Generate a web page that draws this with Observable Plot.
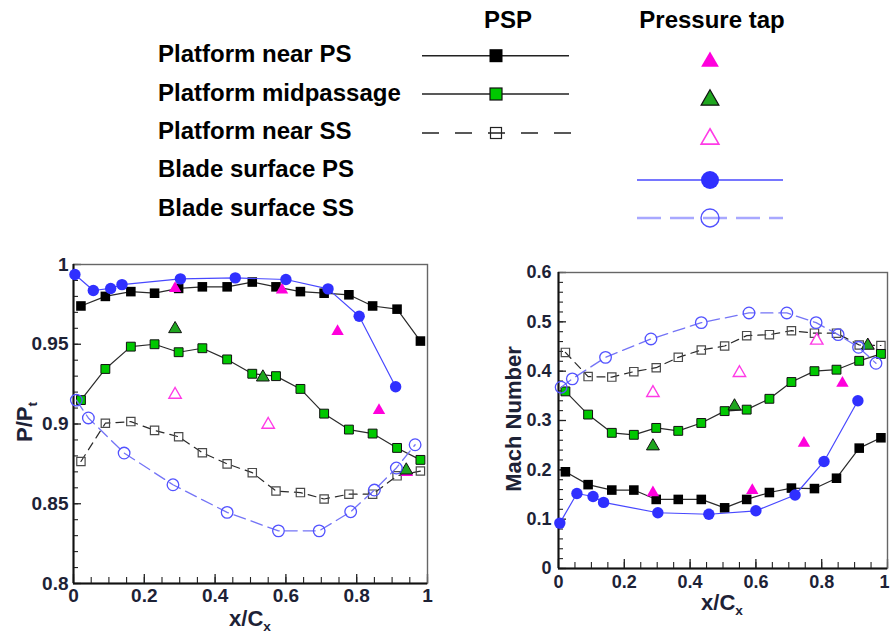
<!DOCTYPE html>
<html>
<head>
<meta charset="utf-8">
<script src="https://cdn.jsdelivr.net/npm/d3@7"></script>
<script src="https://cdn.jsdelivr.net/npm/@observablehq/plot@0.6"></script>
<style>
  html, body { margin: 0; padding: 0; background: #fff; }
  #fig { position: relative; width: 891px; height: 636px; overflow: hidden; background: #fff; }
  #fig svg { position: absolute; }
</style>
</head>
<body>
<div id="fig"></div>
<script>
// ---- PSP stations (axial chord fraction) ----
const xPSP = [0.021, 0.090, 0.162, 0.229, 0.297, 0.364, 0.434, 0.505, 0.572, 0.641, 0.708, 0.778, 0.845, 0.914, 0.980];
// PSP, static-to-total pressure ratio
const pNearPS = [0.974, 0.980, 0.983, 0.982, 0.985, 0.986, 0.986, 0.989, 0.986, 0.983, 0.982, 0.981, 0.974, 0.972, 0.952];
const pMid    = [0.915, 0.9345, 0.9485, 0.950, 0.945, 0.9475, 0.9405, 0.9315, 0.930, 0.922, 0.9065, 0.8965, 0.894, 0.885, 0.8775];
const pNearSS = [0.8765, 0.9005, 0.9015, 0.896, 0.892, 0.882, 0.875, 0.8695, 0.858, 0.857, 0.853, 0.856, 0.856, 0.8675, 0.8705];
// PSP, Mach number
const mNearPS = [0.196, 0.170, 0.159, 0.159, 0.140, 0.140, 0.140, 0.123, 0.140, 0.154, 0.163, 0.162, 0.183, 0.244, 0.265];
const mMid    = [0.359, 0.312, 0.275, 0.271, 0.285, 0.279, 0.295, 0.319, 0.322, 0.344, 0.378, 0.400, 0.403, 0.421, 0.435];
const mNearSS = [0.438, 0.389, 0.388, 0.399, 0.407, 0.428, 0.443, 0.451, 0.472, 0.474, 0.482, 0.477, 0.477, 0.453, 0.452];

// ---- Blade surface taps ----
const xBladePS = [0.004, 0.056, 0.105, 0.137, 0.302, 0.457, 0.600, 0.719, 0.807, 0.910];
const pBladePS = [0.9937, 0.9837, 0.985, 0.9874, 0.991, 0.9916, 0.9906, 0.9847, 0.9676, 0.9234];
const mBladePS = [0.092, 0.152, 0.146, 0.134, 0.113, 0.110, 0.117, 0.149, 0.217, 0.340];
const xBladeSS = [0.008, 0.042, 0.143, 0.281, 0.434, 0.579, 0.694, 0.783, 0.850, 0.912, 0.965];
const pBladeSS = [0.915, 0.9038, 0.8818, 0.8619, 0.8446, 0.833, 0.833, 0.845, 0.8586, 0.8724, 0.887];
const mBladeSS = [0.3675, 0.3844, 0.428, 0.4653, 0.4983, 0.518, 0.518, 0.4983, 0.474, 0.4484, 0.416];

// ---- Platform pressure taps ----
const xTapPS  = [0.287, 0.589, 0.746, 0.863, 0.942];
const pTapPS  = [0.985, 0.984, 0.958, 0.9085, 0.8697];
const mTapPS  = [0.1537, 0.1585, 0.254, 0.3756, 0.452];
const xTapMid = [0.287, 0.535, 0.940];
const pTapMid = [0.9596, 0.9293, 0.871];
const mTapMid = [0.248, 0.329, 0.452];
const xTapSS  = [0.287, 0.550, 0.785];
const pTapSS  = [0.9184, 0.8996, null];
const mTapSS  = [0.356, 0.3965, 0.462];

// ---- Axis ticks and labels ----
const xTicks = [0, 0.2, 0.4, 0.6, 0.8, 1];
const xTickLabels = ["0", "0.2", "0.4", "0.6", "0.8", "1"];
const pTicks = [0.8, 0.85, 0.9, 0.95, 1];
const pTickLabels = ["0.8", "0.85", "0.9", "0.95", "1"];
const mTicks = [0, 0.1, 0.2, 0.3, 0.4, 0.5, 0.6];
const mTickLabels = ["0", "0.1", "0.2", "0.3", "0.4", "0.5", "0.6"];

// ---- Legend text ----
const rowLabels = ["Platform near PS", "Platform midpassage", "Platform near SS", "Blade surface PS", "Blade surface SS"];
const colHeaders = ["PSP", "Pressure tap"];

const FONT = '"Liberation Sans", Arial, Helvetica, sans-serif';
const LABEL_COLOR = "#1d2236";
const AXIS_COLOR = "#222";

const C = {
  psp: "#2a2a2a",
  green: "#00c800",
  greenTap: "#1fa61f",
  magenta: "#ff00dc",
  magentaOpen: "#ff3ae6",
  blue: "#3030ff",
  blueLine: "#4848ff",
  blueOpen: "#5252ff",
  blueDash: "#7474f6"
};

function seriesMarks(xs, v) {
  return [
    // platform near suction side (PSP)
    Plot.line(xs.psp, {x: xs.psp, y: v.nearSS, stroke: C.psp, strokeWidth: 1.2, strokeDasharray: "8,6"}),
    Plot.dot(xs.psp, {x: xs.psp, y: v.nearSS, symbol: "square", r: 4.7, fill: "none", stroke: "#4a4a4a", strokeWidth: 1.2}),
    // platform midpassage (PSP)
    Plot.line(xs.psp, {x: xs.psp, y: v.mid, stroke: C.psp, strokeWidth: 1.2}),
    Plot.dot(xs.psp, {x: xs.psp, y: v.mid, symbol: "square", r: 5.0, fill: C.green, stroke: "#111", strokeWidth: 1}),
    // platform near pressure side (PSP)
    Plot.line(xs.psp, {x: xs.psp, y: v.nearPS, stroke: C.psp, strokeWidth: 1.2}),
    Plot.dot(xs.psp, {x: xs.psp, y: v.nearPS, symbol: "square", r: 5.4, fill: "#000"}),
    // pressure taps
    Plot.dot(xs.tapPS, {x: xs.tapPS, y: v.tapPS, symbol: "triangle", r: 4.6, fill: C.magenta}),
    Plot.dot(xs.tapSS, {x: xs.tapSS, y: v.tapSS, symbol: "triangle", r: 4.6, fill: "white", stroke: C.magentaOpen, strokeWidth: 1.4}),
    Plot.dot(xs.tapMid, {x: xs.tapMid, y: v.tapMid, symbol: "triangle", r: 4.8, fill: C.greenTap, stroke: "#111", strokeWidth: 1}),
    // blade surface pressure side
    Plot.line(xs.bladePS, {x: xs.bladePS, y: v.bladePS, stroke: C.blueLine, strokeWidth: 1.2}),
    Plot.dot(xs.bladePS, {x: xs.bladePS, y: v.bladePS, r: 5.7, fill: C.blue}),
    // blade surface suction side
    Plot.line(xs.bladeSS, {x: xs.bladeSS, y: v.bladeSS, stroke: C.blueDash, strokeWidth: 1.3, strokeDasharray: "12,6"}),
    Plot.dot(xs.bladeSS, {x: xs.bladeSS, y: v.bladeSS, r: 5.8, fill: "none", stroke: C.blueOpen, strokeWidth: 1.3})
  ];
}

function panel(cfg) {
  const fw = cfg.width - cfg.marginLeft - cfg.marginRight;
  const fh = cfg.height - cfg.marginTop - cfg.marginBottom;
  const xMinor = d3.ticks(0, 1, 20);
  const svg = Plot.plot({
    width: cfg.width,
    height: cfg.height,
    marginLeft: cfg.marginLeft,
    marginRight: cfg.marginRight,
    marginTop: cfg.marginTop,
    marginBottom: cfg.marginBottom,
    style: {background: "transparent", fontFamily: FONT, fontSize: cfg.tickFont + "px", fontWeight: "bold", color: LABEL_COLOR, overflow: "visible"},
    x: {domain: [0, 1], ticks: xTicks, tickSize: 0, tickPadding: cfg.xPad, tickFormat: d => xTickLabels[xTicks.indexOf(d)], label: null},
    y: {domain: cfg.yDomain, ticks: cfg.yTicks, tickSize: 0, tickPadding: cfg.yPad, tickFormat: d => cfg.yLabels[cfg.yTicks.indexOf(d)], label: null},
    marks: [
      // inward tick marks on the left and bottom edges
      Plot.tickY(cfg.yMinor, {y: d => d, insetRight: fw - 5, stroke: AXIS_COLOR, strokeWidth: 1.1}),
      Plot.tickY(cfg.yTicks, {y: d => d, insetRight: fw - 8, stroke: AXIS_COLOR, strokeWidth: 1.3}),
      Plot.tickX(xMinor, {x: d => d, insetTop: fh - 6, stroke: AXIS_COLOR, strokeWidth: 1.1}),
      Plot.tickX(xTicks, {x: d => d, insetTop: fh - 9, stroke: AXIS_COLOR, strokeWidth: 1.3}),
      Plot.frame({stroke: "#666", strokeWidth: 1.4}),
      Plot.ruleX([0], {stroke: "#111", strokeWidth: 2}),
      Plot.ruleY([cfg.yDomain[0]], {stroke: "#111", strokeWidth: 2}),
      ...seriesMarks(cfg.xs, cfg.v)
    ]
  });
  svg.style.left = cfg.left + "px";
  svg.style.top = cfg.top + "px";
  const s = d3.select(svg);
  // nudge the last x tick label inward when the panel sits at the page edge
  if (cfg.lastXLabelDx) {
    const labels = s.selectAll('[aria-label="x-axis tick label"] text').nodes();
    if (labels.length) d3.select(labels[labels.length - 1]).attr("dx", cfg.lastXLabelDx);
  }
  // x-axis title with subscript
  const xt = s.append("text")
    .attr("x", cfg.xTitle[0]).attr("y", cfg.xTitle[1])
    .attr("text-anchor", "middle")
    .attr("font-family", FONT).attr("font-weight", "bold").attr("font-size", cfg.titleFont)
    .attr("fill", LABEL_COLOR);
  xt.append("tspan").text("x/C");
  xt.append("tspan").attr("font-size", cfg.titleFont * 0.62).attr("dy", "0.35em").text("x");
  // y-axis title, rotated
  const yt = s.append("text")
    .attr("transform", `translate(${cfg.yTitle[0]},${cfg.yTitle[1]}) rotate(-90)`)
    .attr("text-anchor", "middle")
    .attr("font-family", FONT).attr("font-weight", "bold").attr("font-size", cfg.titleFont)
    .attr("fill", LABEL_COLOR);
  cfg.yTitleParts.forEach(([t, sub]) => {
    const ts = yt.append("tspan").text(t);
    if (sub) ts.attr("font-size", cfg.titleFont * 0.62).attr("dy", "0.35em");
  });
  return svg;
}

const fig = document.getElementById("fig");
const xs = {psp: xPSP, bladePS: xBladePS, bladeSS: xBladeSS, tapPS: xTapPS, tapMid: xTapMid, tapSS: xTapSS};

fig.appendChild(panel({
  left: 0, top: 250, width: 445, height: 386,
  marginLeft: 73, marginRight: 18, marginTop: 14, marginBottom: 53,
  yDomain: [0.8, 1], yTicks: pTicks, yLabels: pTickLabels, yMinor: d3.ticks(0.8, 1, 20),
  tickFont: 19, titleFont: 22, xPad: 5, yPad: 5,
  xTitle: [250, 376], yTitle: [32, 172], yTitleParts: [["P/P", false], ["t", true]],
  xs, v: {nearPS: pNearPS, mid: pMid, nearSS: pNearSS, bladePS: pBladePS, bladeSS: pBladeSS, tapPS: pTapPS, tapMid: pTapMid, tapSS: pTapSS}
}));

fig.appendChild(panel({
  left: 490, top: 260, width: 401, height: 376,
  marginLeft: 68, marginRight: 4, marginTop: 12, marginBottom: 68,
  yDomain: [0, 0.6], yTicks: mTicks, yLabels: mTickLabels, yMinor: d3.ticks(0, 0.6, 30),
  tickFont: 18, titleFont: 22, xPad: 7, yPad: 7, lastXLabelDx: -3,
  xTitle: [232, 350], yTitle: [31, 159], yTitleParts: [["Mach Number", false]],
  xs, v: {nearPS: mNearPS, mid: mMid, nearSS: mNearSS, bladePS: mBladePS, bladeSS: mBladeSS, tapPS: mTapPS, tapMid: mTapMid, tapSS: mTapSS}
}));

// ---- Legend: series names with PSP and pressure-tap symbols ----
const leg = d3.select(fig).append("svg")
  .attr("width", 891).attr("height", 240)
  .style("left", "0px").style("top", "0px")
  .attr("font-family", FONT).attr("font-weight", "bold").attr("font-size", 24);

const rowBase = [62, 100.5, 139, 177, 215.5];
rowLabels.forEach((t, i) => {
  leg.append("text").attr("x", 158).attr("y", rowBase[i]).attr("fill", "#000").text(t);
});
leg.append("text").attr("x", 508).attr("y", 28).attr("text-anchor", "middle").text(colHeaders[0]);
leg.append("text").attr("x", 712).attr("y", 28).attr("text-anchor", "middle").text(colHeaders[1]);

const pspY = [55.7, 94, 133];
// PSP samples
leg.append("line").attr("x1", 422).attr("x2", 569).attr("y1", pspY[0]).attr("y2", pspY[0]).attr("stroke", "#222").attr("stroke-width", 1.6);
leg.append("rect").attr("x", 496 - 6.5).attr("y", pspY[0] - 6.5).attr("width", 13).attr("height", 13).attr("fill", "#000");
leg.append("line").attr("x1", 422).attr("x2", 569).attr("y1", pspY[1]).attr("y2", pspY[1]).attr("stroke", "#222").attr("stroke-width", 1.6);
leg.append("rect").attr("x", 496 - 6).attr("y", pspY[1] - 6).attr("width", 12).attr("height", 12).attr("fill", C.green).attr("stroke", "#111").attr("stroke-width", 1.2);
leg.append("line").attr("x1", 422).attr("x2", 571).attr("y1", pspY[2]).attr("y2", pspY[2]).attr("stroke", "#222").attr("stroke-width", 1.6).attr("stroke-dasharray", "17,16");
leg.append("rect").attr("x", 496 - 5.5).attr("y", pspY[2] - 5.5).attr("width", 11).attr("height", 11).attr("fill", "none").attr("stroke", "#222").attr("stroke-width", 1.2);

// Pressure-tap samples
const tri = d3.symbol(d3.symbolTriangle, Math.PI * 6.6 * 6.6);
leg.append("path").attr("d", tri()).attr("transform", "translate(710,61.7)").attr("fill", C.magenta);
leg.append("path").attr("d", tri()).attr("transform", "translate(710,100)").attr("fill", C.greenTap).attr("stroke", "#111").attr("stroke-width", 1.2);
leg.append("path").attr("d", tri()).attr("transform", "translate(710,139)").attr("fill", "white").attr("stroke", C.magentaOpen).attr("stroke-width", 1.6);
leg.append("line").attr("x1", 637).attr("x2", 783).attr("y1", 180).attr("y2", 180).attr("stroke", C.blueLine).attr("stroke-width", 1.6);
leg.append("circle").attr("cx", 710).attr("cy", 180).attr("r", 9).attr("fill", C.blue);
leg.append("line").attr("x1", 637).attr("x2", 783).attr("y1", 218).attr("y2", 218).attr("stroke", "#a8a8ff").attr("stroke-width", 2.4).attr("stroke-dasharray", "24,9");
leg.append("circle").attr("cx", 710).attr("cy", 218).attr("r", 9).attr("fill", "none").attr("stroke", C.blueOpen).attr("stroke-width", 1.4);
</script>
</body>
</html>
